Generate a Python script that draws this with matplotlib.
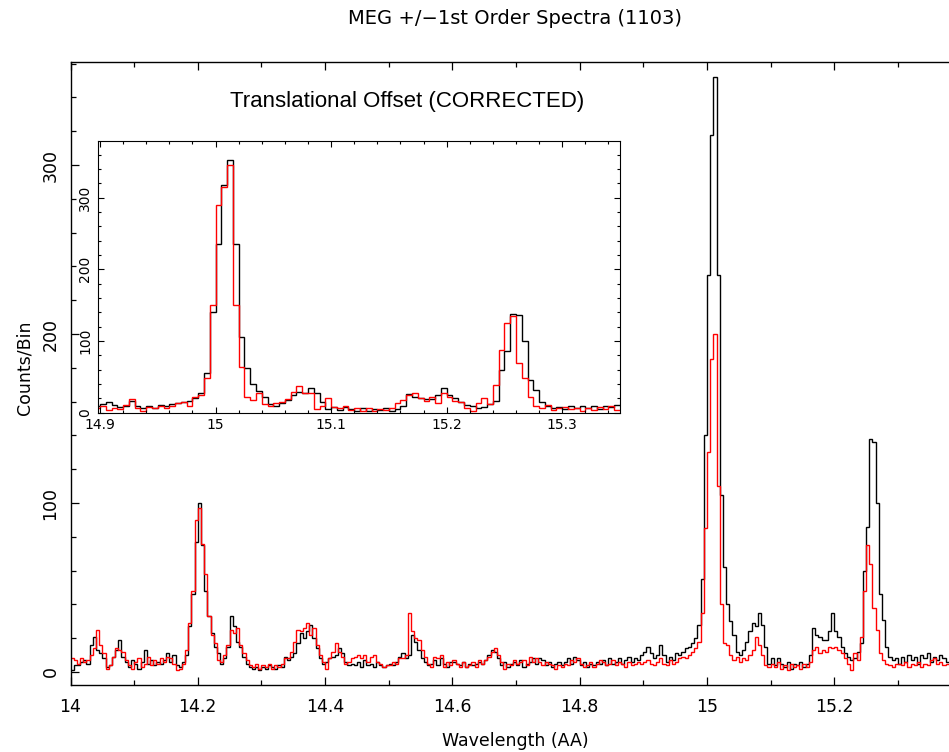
import numpy as np
import matplotlib.pyplot as plt
from matplotlib.ticker import MultipleLocator, FuncFormatter

# ==============================================================
# MEG +/-1st order spectra, counts per 0.005 AA bin from 14.0 AA
#   meg_m1 : black,  meg_p1 : red (uncorrected)
#   inset  : same black data, red after translational correction
# ==============================================================
main_start = 14.0
bin_width = 0.005

meg_m1 = [
    1, 4, 4, 6, 7, 5, 16, 21, 13, 11, 8, 3, 4, 9, 13, 19, 9, 6, 3, 7,
    5, 2, 6, 13, 5, 7, 4, 6, 5, 7, 11, 6, 10, 4, 3, 6, 10, 27, 46, 77,
    100, 75, 48, 33, 23, 15, 11, 5, 8, 15, 33, 27, 18, 15, 9, 5, 3, 2, 3, 1,
    3, 2, 4, 3, 2, 4, 3, 9, 7, 9, 11, 17, 23, 20, 24, 28, 20, 14, 8, 5,
    6, 8, 9, 10, 14, 11, 6, 4, 5, 4, 6, 3, 7, 4, 5, 3, 6, 4, 3, 4,
    5, 4, 6, 9, 11, 8, 10, 22, 18, 13, 8, 6, 4, 5, 7, 4, 8, 5, 3, 6,
    6, 5, 4, 6, 3, 5, 4, 5, 6, 5, 7, 10, 13, 12, 8, 4, 6, 3, 5, 6,
    4, 7, 3, 5, 6, 8, 5, 8, 7, 4, 6, 3, 5, 6, 4, 6, 8, 5, 9, 7,
    4, 6, 3, 5, 4, 6, 5, 7, 4, 8, 5, 6, 8, 5, 7, 9, 6, 8, 7, 10,
    12, 15, 11, 8, 10, 16, 10, 6, 9, 7, 11, 10, 12, 14, 15, 17, 20, 28, 55, 140,
    235, 318, 352, 235, 105, 62, 40, 30, 22, 12, 10, 13, 18, 24, 29, 27, 35, 28, 15, 5,
    8, 4, 8, 5, 3, 6, 2, 5, 4, 6, 3, 5, 10, 26, 22, 21, 19, 19, 24, 35,
    24, 21, 15, 11, 9, 7, 8, 12, 17, 60, 86, 138, 136, 100, 46, 31, 15, 9, 7, 8,
    5, 9, 6, 10, 7, 9, 5, 10, 8, 11, 6, 9, 7, 10, 8, 6,
]

meg_p1 = [
    8, 7, 5, 8, 6, 7, 10, 14, 25, 16, 11, 2, 4, 9, 14, 13, 12, 7, 4, 2,
    6, 8, 3, 5, 9, 4, 7, 5, 8, 6, 9, 8, 5, 1, 2, 5, 13, 29, 48, 90,
    97, 76, 58, 33, 22, 17, 7, 6, 10, 16, 25, 23, 26, 16, 11, 7, 4, 3, 5, 2,
    4, 3, 5, 2, 4, 3, 5, 8, 8, 12, 18, 25, 24, 26, 29, 22, 26, 16, 10, 6,
    2, 8, 12, 17, 12, 9, 5, 6, 8, 9, 10, 8, 10, 6, 9, 10, 6, 5, 3, 4,
    4, 6, 5, 8, 8, 10, 35, 24, 20, 19, 13, 9, 5, 3, 9, 8, 10, 3, 6, 4,
    7, 5, 3, 6, 3, 4, 6, 3, 7, 5, 7, 9, 12, 14, 10, 6, 2, 5, 4, 7,
    5, 6, 7, 4, 9, 6, 8, 6, 4, 6, 5, 4, 2, 4, 3, 5, 4, 7, 6, 8,
    5, 3, 4, 6, 3, 5, 7, 6, 4, 5, 7, 4, 6, 5, 3, 6, 4, 5, 6, 5,
    6, 7, 5, 4, 6, 8, 5, 4, 7, 5, 6, 8, 9, 8, 10, 12, 14, 18, 35, 85,
    130, 185, 200, 110, 40, 17, 16, 10, 7, 9, 6, 8, 7, 10, 13, 21, 16, 10, 4, 3,
    5, 3, 6, 2, 4, 1, 5, 3, 4, 2, 5, 3, 6, 13, 15, 11, 13, 12, 15, 14,
    15, 13, 11, 8, 5, 1, 11, 7, 21, 48, 75, 64, 38, 25, 11, 7, 5, 4, 3, 5,
    5, 4, 6, 3, 5, 4, 6, 3, 5, 4, 7, 8, 5, 6, 4, 5,
]

# inset: red order after correction, 0.005 AA bins from 14.895 AA
inset_start = 14.895
meg_p1_corr = [
    6, 9, 4, 7, 5, 11, 19, 6, 3, 8,
    7, 9, 6, 10, 13, 15, 9, 22, 25, 48,
    150, 290, 315, 345, 150, 64, 22, 18, 27, 12,
    9, 14, 15, 19, 29, 37, 28, 27, 5, 9,
    20, 8, 6, 10, 4, 7, 3, 6, 2, 5,
    4, 7, 13, 18, 25, 27, 20, 16, 22, 14,
    27, 22, 17, 15, 6, 2, 13, 20, 12, 38,
    87, 125, 135, 69, 48, 22, 9, 7, 11, 4,
    6, 8, 5, 7, 3, 6, 4, 8, 5, 10,
    4,
]

title = "MEG +/\u22121st Order Spectra (1103)"
inset_title = "Translational Offset (CORRECTED)"

W, H = 949, 752
fig = plt.figure(figsize=(W / 100, H / 100), dpi=100)
fmt = FuncFormatter(lambda v, p: f"{v:g}")

# ---------------- main panel ----------------
ax = fig.add_axes([70.5 / W, 67 / H, 890.4 / W, 623 / H])
edges = main_start + bin_width * np.arange(len(meg_m1) + 1)
ax.stairs(meg_m1, edges, baseline=None, color="black", lw=1.0)
ax.stairs(meg_p1, edges, baseline=None, color="red", lw=1.0)
ax.set_xlim(14.0, 15.399)
ax.set_ylim(-7.7, 361)
ax.xaxis.set_major_locator(MultipleLocator(0.2))
ax.xaxis.set_minor_locator(MultipleLocator(0.1))
ax.yaxis.set_major_locator(MultipleLocator(100))
ax.yaxis.set_minor_locator(MultipleLocator(20))
ax.xaxis.set_major_formatter(fmt)
ax.tick_params(which="both", direction="in", top=True, right=True, width=0.9)
ax.tick_params(which="major", length=6)
ax.tick_params(which="minor", length=3.5)
ax.tick_params(axis="x", labelsize=12.5, pad=9)
ax.tick_params(axis="y", labelsize=12.5, pad=8, labelrotation=90)
for lbl in ax.get_yticklabels():
    lbl.set_va("center")
for sp in ax.spines.values():
    sp.set_linewidth(1.0)

fig.text(515 / W, 1 - 18 / H, title, ha="center", va="center", fontsize=14)
fig.text(515 / W, 1 - 741 / H, "Wavelength (AA)", ha="center", va="center", fontsize=12.5)
fig.text(25 / W, 1 - 368 / H, "Counts/Bin", ha="center", va="center",
         rotation=90, fontsize=12.5)

# ---------------- inset ----------------
axin = fig.add_axes([97.7 / W, 1 - 412.7 / H, 522.3 / W, 271.7 / H])
i0 = int(round((inset_start - main_start) / bin_width))
n_in = len(meg_p1_corr)
in_edges = inset_start + bin_width * np.arange(n_in + 1)
axin.stairs(meg_m1[i0:i0 + n_in], in_edges, baseline=None, color="black", lw=1.0)
axin.stairs(meg_p1_corr, in_edges, baseline=None, color="red", lw=1.0)
axin.set_xlim(14.898, 15.35)
axin.set_ylim(0, 379)
axin.xaxis.set_major_locator(MultipleLocator(0.1))
axin.xaxis.set_minor_locator(MultipleLocator(0.02))
axin.yaxis.set_major_locator(MultipleLocator(100))
axin.yaxis.set_minor_locator(MultipleLocator(20))
axin.xaxis.set_major_formatter(fmt)
axin.tick_params(which="both", direction="in", top=True, right=True, width=0.8)
axin.tick_params(which="major", length=4.5)
axin.tick_params(which="minor", length=2.5)
axin.tick_params(axis="x", labelsize=10, pad=4)
axin.tick_params(axis="y", labelsize=10, pad=4, labelrotation=90)
for lbl in axin.get_yticklabels():
    lbl.set_va("center")

fig.text(407 / W, 1 - 101 / H, inset_title, ha="center", va="center",
         fontsize=16, family="Liberation Sans")

fig.savefig("out.png", dpi=100)
